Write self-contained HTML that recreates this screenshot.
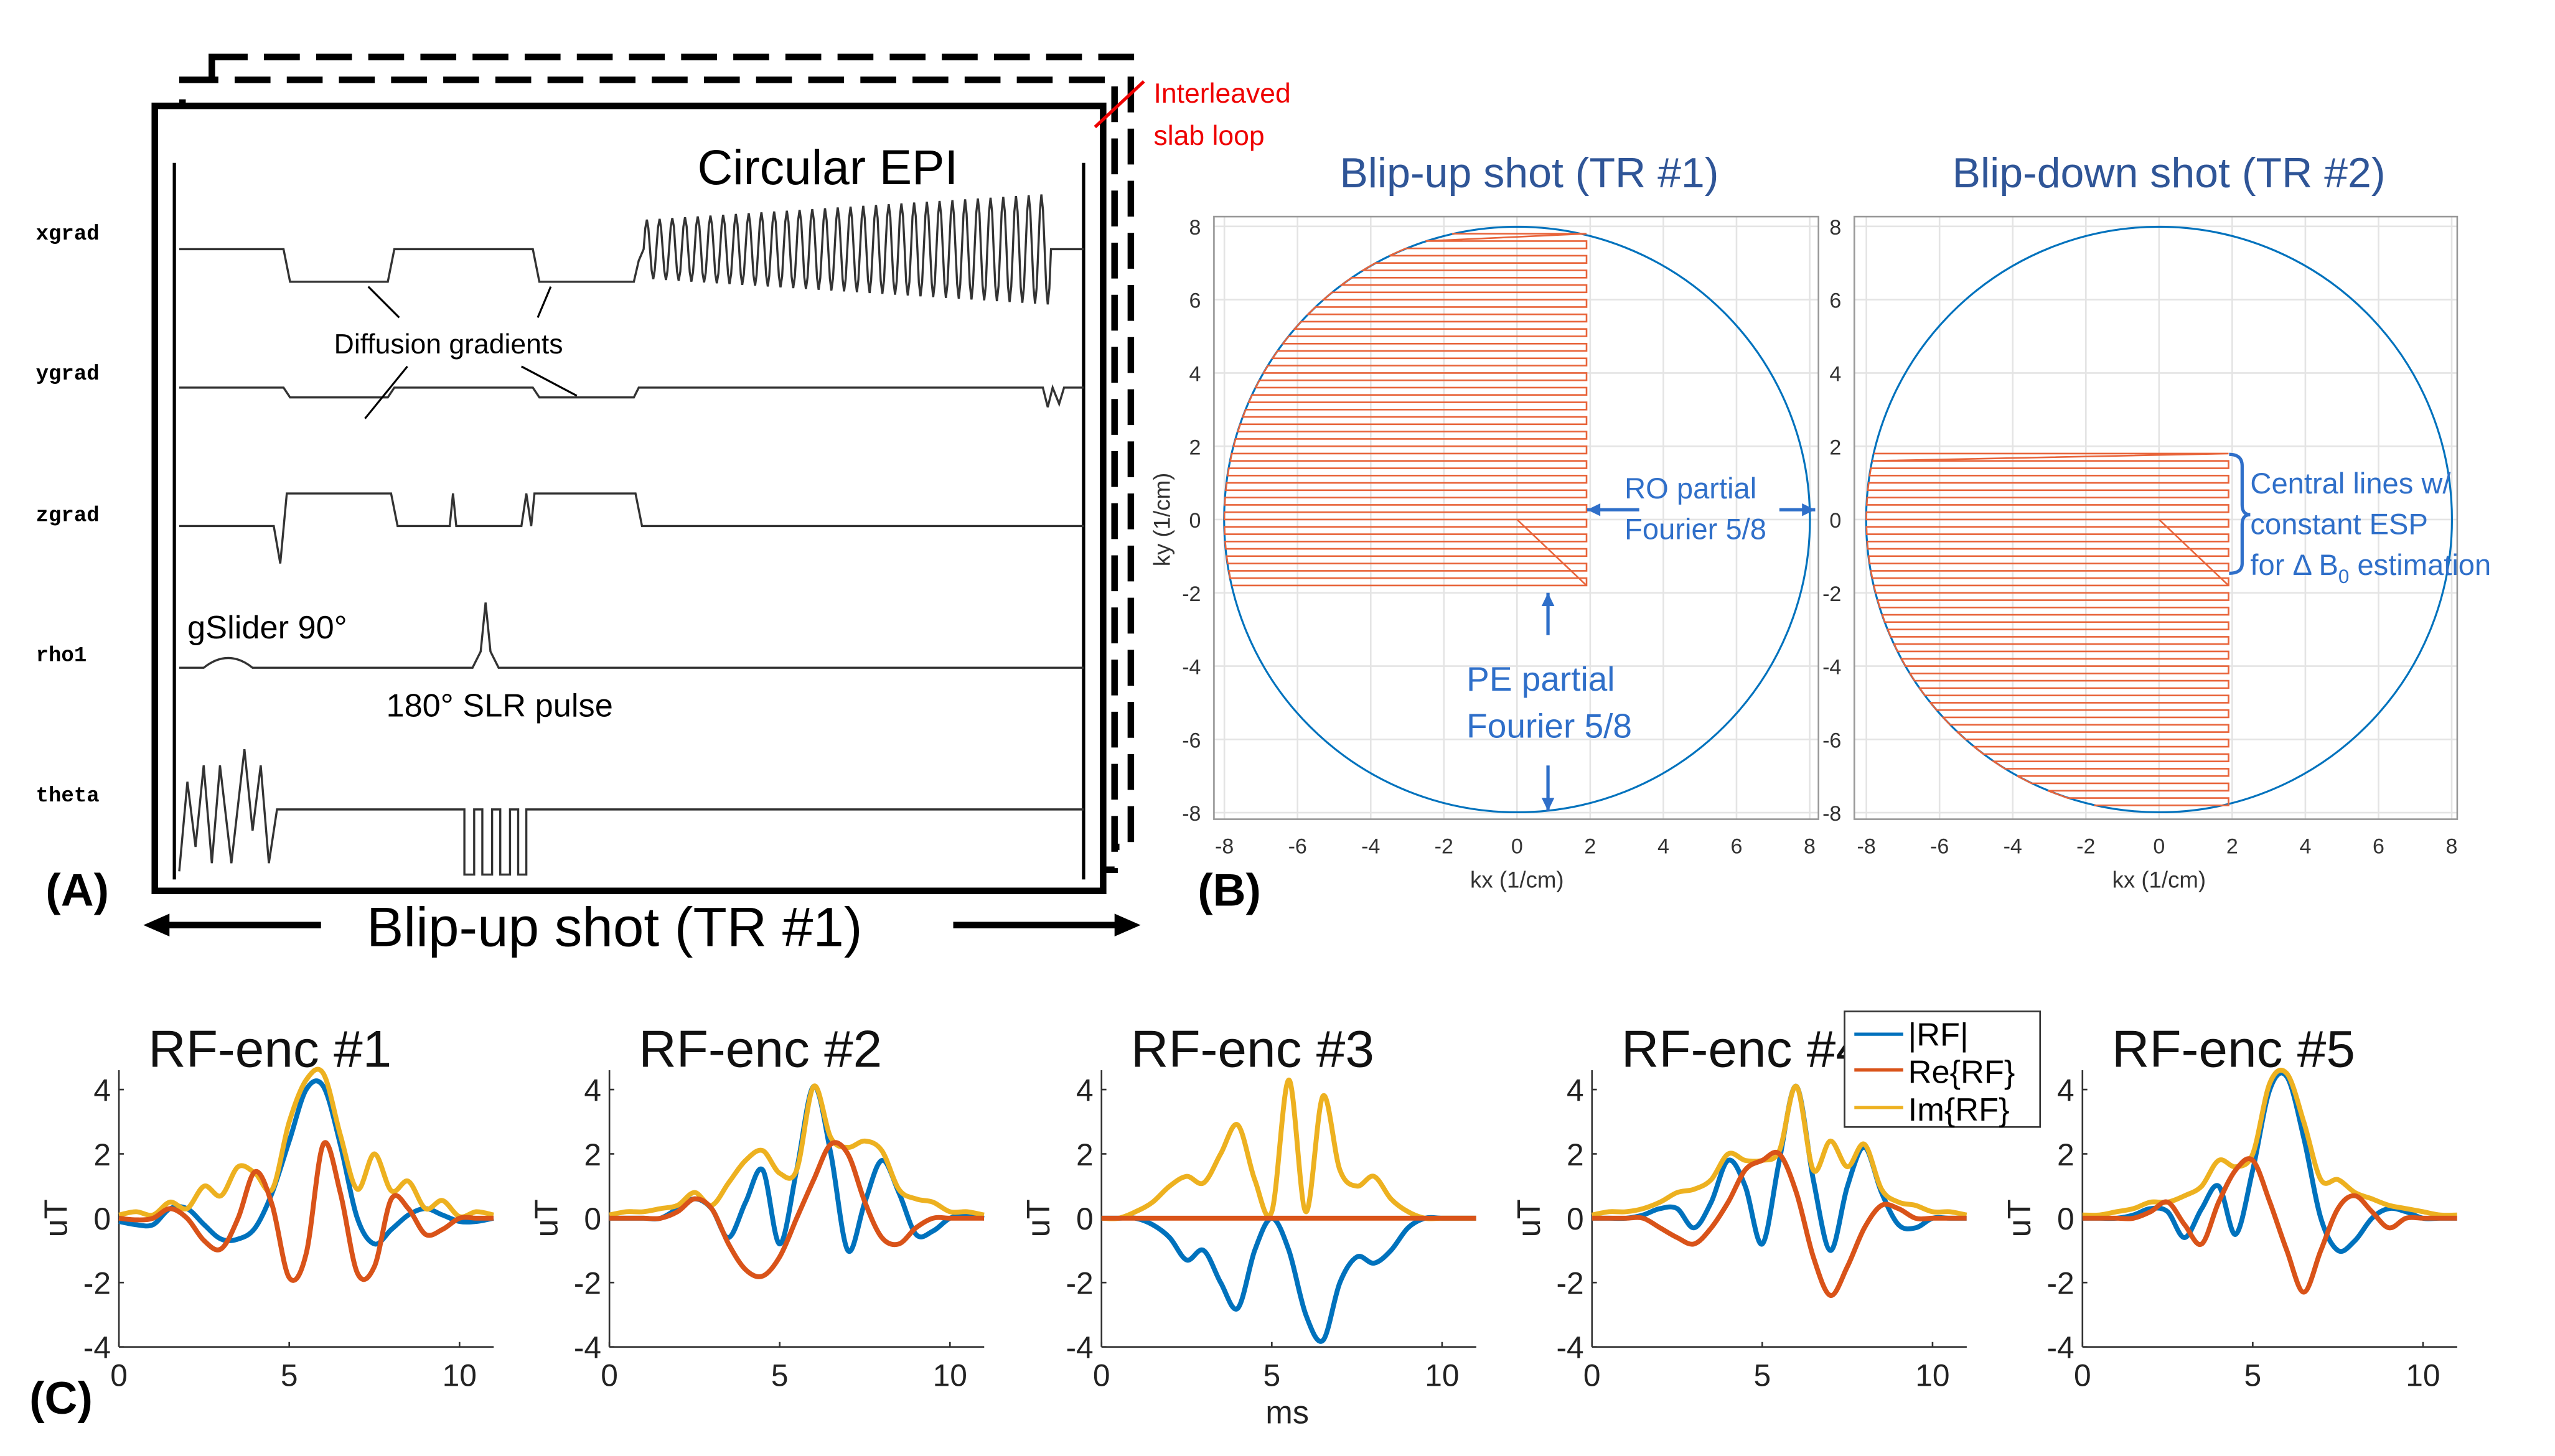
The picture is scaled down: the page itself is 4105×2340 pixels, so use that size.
<!DOCTYPE html>
<html><head><meta charset="utf-8"><style>html,body{margin:0;padding:0;background:#fff}svg{display:block}</style></head>
<body>
<svg id="fig" xmlns="http://www.w3.org/2000/svg" width="4105" height="2340" viewBox="0 0 1568 894" preserveAspectRatio="none" font-family="Liberation Sans, sans-serif">
<rect width="1568" height="894" fill="#fff"/>
<g>
 <rect x="130" y="35" width="564" height="485" fill="none" stroke="#000" stroke-width="4" stroke-dasharray="22,10"/>
 <rect x="112" y="49" width="572" height="485" fill="#fff" stroke="#000" stroke-width="4" stroke-dasharray="22,10"/>
 <rect x="95" y="65" width="582" height="482" fill="#fff" stroke="#000" stroke-width="4"/>
 <line x1="107" y1="100" x2="107" y2="540" stroke="#000" stroke-width="2"/>
 <line x1="665" y1="100" x2="665" y2="540" stroke="#000" stroke-width="2"/>
 <line x1="672" y1="78" x2="702" y2="50" stroke="#e00" stroke-width="2"/>
 <text x="708" y="63" font-size="17" fill="#e00">Interleaved</text>
 <text x="708" y="89" font-size="17" fill="#e00">slab loop</text>
 <g font-family="Liberation Mono, monospace" font-weight="bold" font-size="13">
  <text x="22" y="147">xgrad</text>
  <text x="22" y="233">ygrad</text>
  <text x="22" y="320">zgrad</text>
  <text x="22" y="406">rho1</text>
  <text x="22" y="492">theta</text>
 </g>
 <g fill="none" stroke="#333" stroke-width="1.3">
  <path id="xg" d="M110 153 H174 L178 173 H238 L242 153 H327 L331 173 H389 L392 160"/>
  <path d="M110 238 H174 L178 244 H238 L242 238 H327 L331 244 H389 L392 238 H640 L643 250 L646 238 L650 248 L653 238 H665"/>
  <path d="M110 323 H168 L172 346 L176 303 H240 L244 323 H276 L278 303 L280 323 H320 L323 303 L326 323 L328 303 H390 L394 323 H665"/>
  <path d="M110 410 H125 Q140 398 155 410 H290 L295 400 L298 370 L301 400 L306 410 H665"/>
  <path d="M110 535 L115 480 L120 520 L125 470 L130 530 L135 470 L142 530 L150 460 L155 510 L160 470 L165 530 L170 497 H285 V537 H291 V497 H296 V537 H302 V497 H307 V537 H313 V497 H318 V537 H323 V497 H665"/>
 </g>
 <text x="428" y="113" font-size="30">Circular EPI</text>
 <text x="205" y="217" font-size="17">Diffusion gradients</text>
 <g stroke="#000" stroke-width="1.2">
  <line x1="245" y1="195" x2="226" y2="176"/><line x1="330" y1="195" x2="338" y2="176"/>
  <line x1="250" y1="225" x2="224" y2="257"/><line x1="320" y1="225" x2="354" y2="243"/>
 </g>
 <text x="115" y="392" font-size="20">gSlider 90°</text>
 <text x="237" y="440" font-size="20">180° SLR pulse</text>
 <text x="28" y="556" font-size="28" font-weight="bold">(A)</text>
 <text x="225" y="581" font-size="34">Blip-up shot (TR #1)</text>
 <line x1="197" y1="568" x2="100" y2="568" stroke="#000" stroke-width="4"/><path d="M88 568 L104 561 L104 575Z"/>
 <line x1="585" y1="568" x2="688" y2="568" stroke="#000" stroke-width="4"/><path d="M700 568 L684 561 L684 575Z"/>
</g>
<g id="pb"></g>
<text x="735" y="556" font-size="28" font-weight="bold">(B)</text>
<g id="pc"></g>
<text x="18" y="868" font-size="28" font-weight="bold">(C)</text>
<text x="790" y="874" font-size="20" text-anchor="middle" fill="#222">ms</text>
<g>
 <rect x="1132" y="621" width="120" height="71" fill="#fff" stroke="#333" stroke-width="1"/>
 <line x1="1138" y1="635" x2="1168" y2="635" stroke="#0072bd" stroke-width="2"/><text x="1171" y="642" font-size="20">|RF|</text>
 <line x1="1138" y1="657" x2="1168" y2="657" stroke="#d95319" stroke-width="2"/><text x="1171" y="665" font-size="20">Re{RF}</text>
 <line x1="1138" y1="680" x2="1168" y2="680" stroke="#edb120" stroke-width="2"/><text x="1171" y="688" font-size="20">Im{RF}</text>
</g>
</svg>
<script>
var NS='http://www.w3.org/2000/svg';
function mk(p,t,a){var e=document.createElementNS(NS,t);for(var k in a)e.setAttribute(k,a[k]);p.appendChild(e);return e;}
var epiCycles=32;
var epiAmpStart=18, epiAmpEnd=34;
(function(){var xg=document.getElementById('xg');var d=xg.getAttribute('d');var x0=395,x1=645;
for(var i=0;i<=epiCycles*8;i++){var f=i/(epiCycles*8);var x=x0+f*(x1-x0);var a=epiAmpStart+(epiAmpEnd-epiAmpStart)*f;d+=' L'+x.toFixed(1)+' '+(153-a*Math.sin(i*Math.PI/4)).toFixed(1);}
d+=' L650 153 H665';xg.setAttribute('d',d);})();

var kTicks=[-8,-6,-4,-2,0,2,4,6,8];
var shot1Range=[7.8,-1.8];
var shot2Range=[1.8,-7.8];
var kxEnd=1.9, kStep=0.2;
var pb=document.getElementById('pb');
function kplot(L,R,cx,title,range,name){
 var sx=function(v){return cx+v*22.45;}, sy=function(v){return 319-v*22.5;};
 var g=mk(pb,'g',{});
 
 
 kTicks.forEach(function(t){
  mk(g,'line',{x1:sx(t),x2:sx(t),y1:133,y2:503,stroke:'#e4e4e4','stroke-width':1});
  mk(g,'line',{x1:L,x2:R,y1:sy(t),y2:sy(t),stroke:'#e4e4e4','stroke-width':1});
  var tx=mk(g,'text',{x:sx(t),y:524,'font-size':13,'text-anchor':'middle',fill:'#333'});tx.textContent=t;
  var ty=mk(g,'text',{x:L-8,y:sy(t)+5,'font-size':13,'text-anchor':'end',fill:'#333'});ty.textContent=t;
 });
 mk(g,'rect',{x:L,y:133,width:R-L,height:370,fill:'none',stroke:'#999','stroke-width':1});
 mk(g,'circle',{cx:cx,cy:319,r:8*22.47,fill:'none',stroke:'#0072bd','stroke-width':1.2});
 var d='',dir=1,first=true;
 for(var k=range[0];k>=range[1]-1e-6;k-=kStep){
  var xl=-Math.sqrt(Math.max(0,64-k*k));
  var a=sx(xl),b=sx(kxEnd),y=sy(k);
  if(first){d+='M'+a+' '+y+' L'+b+' '+y;first=false;}
  else if(dir>0){d+=' L'+b+' '+y+' L'+a+' '+y;}
  else{d+=' L'+a+' '+y+' L'+b+' '+y;}
  dir=-dir;
 }
 var p=mk(g,'path',{d:d,fill:'none',stroke:'#e8643a','stroke-width':1});
 
 
 mk(g,'line',{x1:sx(0),y1:sy(0),x2:sx(kxEnd),y2:sy(-1.8),stroke:'#e8643a','stroke-width':1});
 var tt=mk(g,'text',{x:(L+R)/2+8,y:115,'font-size':26,'text-anchor':'middle',fill:'#2f5597'});tt.textContent=title;
 
 
 var xl2=mk(g,'text',{x:cx,y:545,'font-size':14,'text-anchor':'middle',fill:'#333'});xl2.textContent='kx (1/cm)';
}
kplot(745,1116,931,'Blip-up shot (TR #1)',shot1Range,'kspace-blip-up');
kplot(1138,1508,1325,'Blip-down shot (TR #2)',shot2Range,'kspace-blip-down');
(function(){var t=mk(pb,'text',{x:0,y:0,'font-size':14,'text-anchor':'middle',fill:'#333',transform:'translate(718,319) rotate(-90)'});t.textContent='ky (1/cm)';
var blue='#2f6fc9';
function arrow(x1,y1,x2,y2){mk(pb,'line',{x1:x1,y1:y1,x2:x2,y2:y2,stroke:blue,'stroke-width':2});var a=Math.atan2(y2-y1,x2-x1),s=9;
mk(pb,'path',{d:'M'+x2+' '+y2+' L'+(x2-s*Math.cos(a-0.45))+' '+(y2-s*Math.sin(a-0.45))+' L'+(x2-s*Math.cos(a+0.45))+' '+(y2-s*Math.sin(a+0.45))+'Z',fill:blue});}
arrow(1006,313,974,313);arrow(1092,313,1114,313);arrow(950,390,950,364);arrow(950,470,950,498);
function tx(x,y,s,sz){var t=mk(pb,'text',{x:x,y:y,'font-size':sz,fill:blue});t.textContent=s;return t;}
tx(997,306,'RO partial',18);tx(997,331,'Fourier 5/8',18);tx(900,424,'PE partial',21);tx(900,453,'Fourier 5/8',21);
tx(1381,303,'Central lines w/',18);tx(1381,328,'constant ESP',18);
var t3=tx(1381,353,'for Δ B',18);var ts=mk(t3,'tspan',{'font-size':12,dy:5});ts.textContent='0';var ts2=mk(t3,'tspan',{dy:-5});ts2.textContent=' estimation';
mk(pb,'path',{d:'M1368 279 Q1376 279 1376 286 V310 Q1376 316 1381 316 Q1376 316 1376 322 V346 Q1376 352 1368 352',fill:'none',stroke:blue,'stroke-width':2});
})();

var timeMs=[0,0.5,1,1.5,2,2.5,3,3.5,4,4.5,5,5.5,6,6.5,7,7.5,8,8.5,9,9.5,10,10.5,11];
var absRF=[
 [-0.1,-0.2,-0.2,0.3,0.3,-0.2,-0.65,-0.65,-0.3,0.8,2.4,4.0,4.1,2.3,0,-0.8,-0.35,0.1,0.3,0.1,-0.1,-0.1,0],
 [0,0,0,0,0.3,0.6,0.3,-0.6,0.5,1.5,-0.8,1.5,4.1,2.0,-1.0,0.5,1.8,0.8,-0.5,-0.4,0,0.1,0],
 [0,0,0,-0.2,-0.6,-1.3,-1.0,-2.0,-2.8,-1.0,0,-1.0,-3.0,-3.8,-2.0,-1.2,-1.4,-1.0,-0.3,0,0,0,0],
 [0,0,0,0.1,0.3,0.3,-0.3,0.5,1.8,1.0,-0.8,1.8,4.1,1.2,-1.0,1.0,2.2,0.8,-0.2,-0.3,0,0,0],
 [0,0,0,0.1,0.3,0.2,-0.6,0.3,1.0,-0.5,1.5,4.0,4.4,2.5,0.0,-1.0,-0.7,0,0.3,0.2,0,0,0]];
var reRF=[
 [0,-0.05,0,0.3,0,-0.7,-0.95,0,1.45,0.4,-1.85,-1.1,2.3,0.8,-1.7,-1.5,0.6,0.3,-0.5,-0.35,0,0,0],
 [0,0,0,0,0.2,0.6,0.3,-0.8,-1.6,-1.8,-1.2,0,1.2,2.3,2.0,0.5,-0.6,-0.8,-0.3,0,0,0,0],
 [0,0,0,0,0,0,0,0,0,0,0,0,0,0,0,0,0,0,0,0,0,0,0],
 [0,0,0,0,-0.3,-0.6,-0.8,-0.3,0.5,1.5,1.8,2.0,0.8,-1.2,-2.4,-1.5,-0.3,0.4,0.3,0,0,0,0],
 [0,0,0,0,0.2,0.5,-0.2,-0.8,0.5,1.5,1.8,0.5,-1.0,-2.3,-1.0,0.3,0.7,0.2,-0.3,0,0,0,0]];
var imRF=[
 [0.1,0.2,0.1,0.5,0.3,1.0,0.7,1.6,1.4,0.9,3.0,4.3,4.5,2.6,0.9,2.0,0.85,1.15,0.3,0.55,0.05,0.2,0.1],
 [0.1,0.2,0.2,0.3,0.4,0.8,0.4,1.1,1.8,2.1,1.4,1.5,4.1,2.5,2.2,2.4,2.1,0.9,0.6,0.5,0.2,0.2,0.1],
 [0,0,0.2,0.5,1.0,1.3,1.1,2.0,2.9,1.2,0.2,4.3,0.2,3.8,1.5,1.0,1.3,0.6,0.2,0,0,0,0],
 [0.1,0.2,0.2,0.3,0.5,0.8,0.9,1.2,2.0,1.8,1.8,2.1,4.1,1.5,2.4,1.6,2.3,0.9,0.5,0.4,0.2,0.2,0.1],
 [0.1,0.1,0.2,0.3,0.5,0.5,0.7,1.0,1.8,1.6,2.0,4.2,4.5,3.0,1.2,1.2,0.8,0.6,0.4,0.3,0.2,0.1,0.1]];
var yTicks=[4,2,0,-2,-4];
var xTicks=[0,5,10];
var encTitles=['RF-enc #1','RF-enc #2','RF-enc #3','RF-enc #4','RF-enc #5'];
var plotLefts=[73,374,676,977,1278];
var pc=document.getElementById('pc');
function smooth(pts){var d='M'+pts[0][0]+' '+pts[0][1];for(var i=0;i<pts.length-1;i++){var p0=pts[Math.max(0,i-1)],p1=pts[i],p2=pts[i+1],p3=pts[Math.min(pts.length-1,i+2)];
 d+=' C'+(p1[0]+(p2[0]-p0[0])/6).toFixed(1)+' '+(p1[1]+(p2[1]-p0[1])/6).toFixed(1)+' '+(p2[0]-(p3[0]-p1[0])/6).toFixed(1)+' '+(p2[1]-(p3[1]-p1[1])/6).toFixed(1)+' '+p2[0].toFixed(1)+' '+p2[1].toFixed(1);}return d;}
encTitles.forEach(function(title,j){
 var L=plotLefts[j],W=230;
 var sx=function(t){return L+t*20.9;}, sy=function(v){return 748-v*19.75;};
 var g=mk(pc,'g',{});
 
 
 mk(g,'line',{x1:L,y1:sy(4.6),x2:L,y2:sy(-4),stroke:'#333','stroke-width':1});
 mk(g,'line',{x1:L,y1:sy(-4),x2:L+W,y2:sy(-4),stroke:'#333','stroke-width':1});
 yTicks.forEach(function(v){mk(g,'line',{x1:L,x2:L+3,y1:sy(v),y2:sy(v),stroke:'#333'});
  var t=mk(g,'text',{x:L-5,y:sy(v)+7,'font-size':19,'text-anchor':'end',fill:'#222'});t.textContent=v;});
 xTicks.forEach(function(v){mk(g,'line',{x1:sx(v),x2:sx(v),y1:sy(-4),y2:sy(-4)-3,stroke:'#333'});
  var t=mk(g,'text',{x:sx(v),y:851,'font-size':19,'text-anchor':'middle',fill:'#222'});t.textContent=v;});
 var ul=mk(g,'text',{x:0,y:0,'font-size':20,'text-anchor':'middle',fill:'#222',transform:'translate('+(L-32)+',748) rotate(-90)'});ul.textContent='uT';
 var tt=mk(g,'text',{x:L+18,y:655,'font-size':32,fill:'#111'});tt.textContent=title;
 [[absRF[j],'#0072bd'],[imRF[j],'#edb120'],[reRF[j],'#d95319']].forEach(function(s){
  var pts=timeMs.map(function(t,i){return [sx(t),sy(s[0][i])];});
  var p=mk(g,'path',{d:smooth(pts),fill:'none',stroke:s[1],'stroke-width':3});
  
  
 });
});
</script>
</body></html>
